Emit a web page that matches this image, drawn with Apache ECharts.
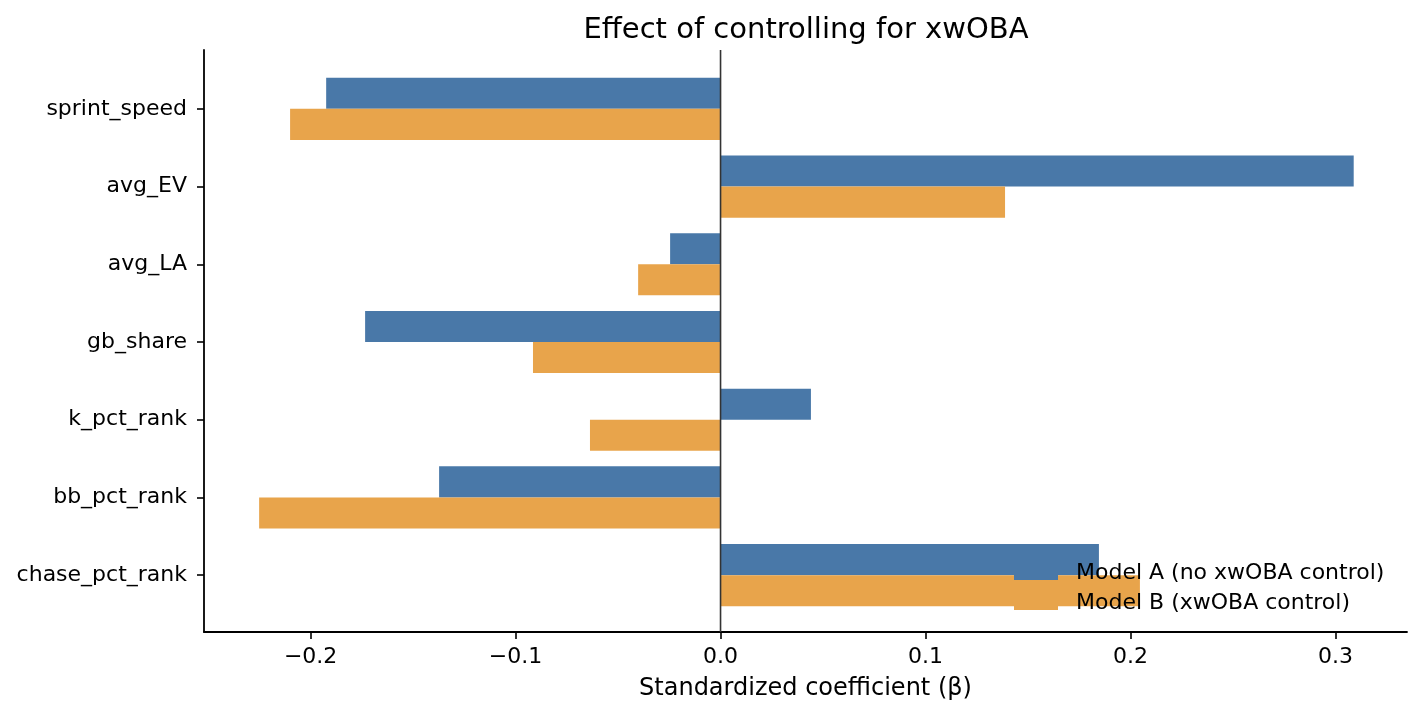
<!DOCTYPE html>
<html>
<head>
<meta charset="utf-8">
<script src="https://cdn.jsdelivr.net/npm/echarts@6/dist/echarts.min.js"></script>
<style>
  html, body { margin: 0; padding: 0; background: #fff; }
  #chart { width: 1424px; height: 717px; }
</style>
</head>
<body>
<div id="chart"></div>
<script>
// data
var features = ['sprint_speed', 'avg_EV', 'avg_LA', 'gb_share', 'k_pct_rank', 'bb_pct_rank', 'chase_pct_rank'];
var modelA = [-0.1924, 0.3089, -0.0246, -0.1734, 0.0441, -0.1373, 0.1846];
var modelB = [-0.2100, 0.1388, -0.0402, -0.0915, -0.0637, -0.2251, 0.2046];
var xTicks = [-0.2, -0.1, 0.0, 0.1, 0.2, 0.3];
var xMin = -0.252, xMax = 0.3349;

var font = 'DejaVu Sans';
var chart = echarts.init(document.getElementById('chart'));

function fmt(v) {
  var s = Math.abs(v).toFixed(1);
  return v < -1e-9 ? '\u2212' + s : s;
}

var option = {
  animation: false,
  textStyle: { fontFamily: font },
  title: {
    text: 'Effect of controlling for xwOBA',
    left: 801, top: 11,
    textAlign: 'center',
    textStyle: { fontFamily: font, fontSize: 29, fontWeight: 'normal', color: '#000' }
  },
  legend: {
    data: ['Model A (no xwOBA control)', 'Model B (xwOBA control)'],
    orient: 'vertical',
    left: 1014, top: 562, padding: 0,
    itemWidth: 44, itemHeight: 14, itemGap: 8,
    icon: 'rect',
    textStyle: { fontFamily: font, fontSize: 22, color: '#000', padding: [0, 0, 0, 13] }
  },
  grid: [
    { left: 204, right: 17, top: 70, bottom: 103 },   // bars
    { left: 204, right: 17, top: 50, bottom: 85 }     // frame
  ],
  xAxis: [
    { type: 'value', gridIndex: 0, min: xMin, max: xMax, show: false },
    {
      type: 'value', gridIndex: 1, min: xMin, max: xMax,
      name: 'Standardized coefficient (\u03b2)', nameLocation: 'middle', nameGap: 45,
      nameTextStyle: { fontFamily: font, fontSize: 24, color: '#000' },
      axisLine: { show: true, lineStyle: { color: '#000', width: 1.8 } },
      axisTick: { show: true, length: 7, customValues: xTicks, lineStyle: { color: '#000', width: 1.6 } },
      axisLabel: { customValues: xTicks, formatter: fmt, margin: 14, fontFamily: font, fontSize: 22, color: '#000' },
      splitLine: { show: false }
    }
  ],
  yAxis: [
    {
      type: 'category', gridIndex: 0, data: features, inverse: true,
      axisLine: { show: false, onZero: false },
      axisTick: { show: true, alignWithLabel: true, length: 7, lineStyle: { color: '#000', width: 1.6 } },
      axisLabel: { margin: 17, padding: [4, 0, 0, 0], fontFamily: font, fontSize: 22, color: '#000' }
    },
    {
      type: 'value', gridIndex: 1, min: 0, max: 1,
      axisLine: { show: true, onZero: false, lineStyle: { color: '#000', width: 1.8 } },
      axisTick: { show: false }, axisLabel: { show: false }, splitLine: { show: false }
    }
  ],
  series: [
    {
      name: 'Model A (no xwOBA control)', type: 'bar', xAxisIndex: 0, yAxisIndex: 0,
      data: modelA, barGap: '0%', barCategoryGap: '20%',
      itemStyle: { color: '#4978A8' }
    },
    {
      name: 'Model B (xwOBA control)', type: 'bar', xAxisIndex: 0, yAxisIndex: 0,
      data: modelB, barGap: '0%', barCategoryGap: '20%',
      itemStyle: { color: '#E8A44B' }
    },
    {
      // zero reference line across the full axes height
      name: 'zero', type: 'line', xAxisIndex: 1, yAxisIndex: 1,
      data: [[0, 0], [0, 1]], symbol: 'none', z: 5,
      lineStyle: { color: '#333', width: 1.6 }
    }
  ]
};
chart.setOption(option);
</script>
</body>
</html>
